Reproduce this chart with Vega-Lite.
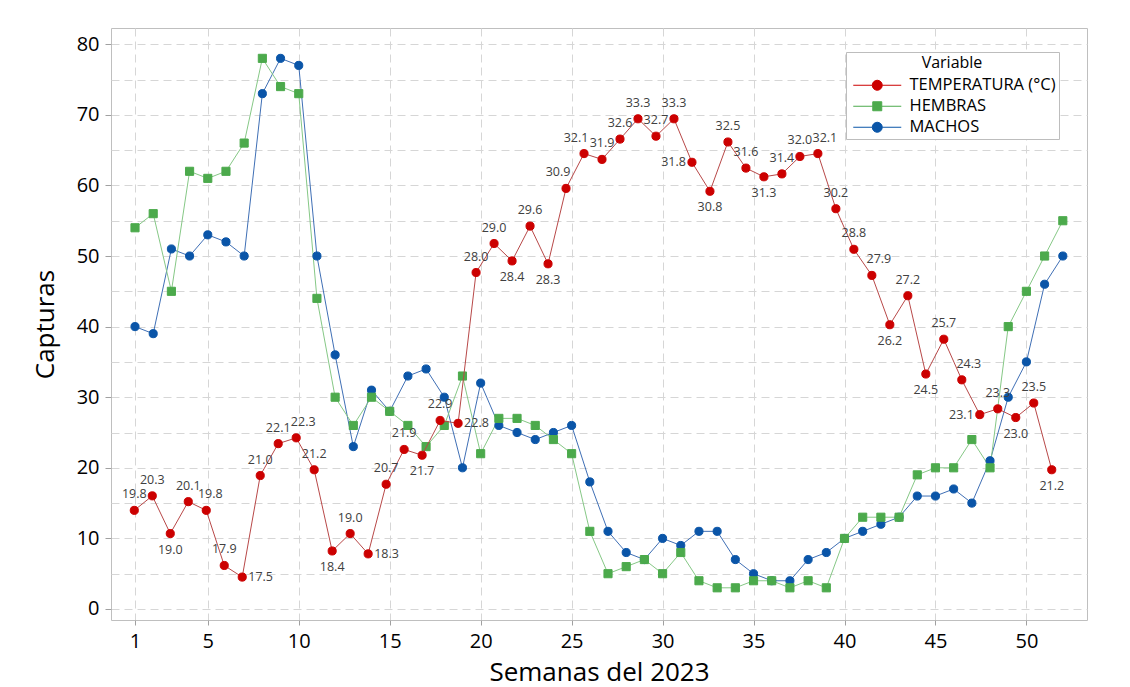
{
  "$schema": "https://vega.github.io/schema/vega-lite/v6.json",
  "width": 976,
  "height": 592,
  "autosize": {"type": "none"},
  "padding": {"left": 111, "top": 28, "right": 43, "bottom": 67},
  "background": "white",
  "config": {
    "font": "Open Sans",
    "view": {"stroke": "#bfbfbf", "strokeWidth": 1}
  },
  "data": {
    "values": [
      {"Semana": 1, "HEMBRAS": 54, "MACHOS": 40, "Temperatura": 19.8},
      {"Semana": 2, "HEMBRAS": 56, "MACHOS": 39, "Temperatura": 20.3},
      {"Semana": 3, "HEMBRAS": 45, "MACHOS": 51, "Temperatura": 19.0},
      {"Semana": 4, "HEMBRAS": 62, "MACHOS": 50, "Temperatura": 20.1},
      {"Semana": 5, "HEMBRAS": 61, "MACHOS": 53, "Temperatura": 19.8},
      {"Semana": 6, "HEMBRAS": 62, "MACHOS": 52, "Temperatura": 17.9},
      {"Semana": 7, "HEMBRAS": 66, "MACHOS": 50, "Temperatura": 17.5},
      {"Semana": 8, "HEMBRAS": 78, "MACHOS": 73, "Temperatura": 21.0},
      {"Semana": 9, "HEMBRAS": 74, "MACHOS": 78, "Temperatura": 22.1},
      {"Semana": 10, "HEMBRAS": 73, "MACHOS": 77, "Temperatura": 22.3},
      {"Semana": 11, "HEMBRAS": 44, "MACHOS": 50, "Temperatura": 21.2},
      {"Semana": 12, "HEMBRAS": 30, "MACHOS": 36, "Temperatura": 18.4},
      {"Semana": 13, "HEMBRAS": 26, "MACHOS": 23, "Temperatura": 19.0},
      {"Semana": 14, "HEMBRAS": 30, "MACHOS": 31, "Temperatura": 18.3},
      {"Semana": 15, "HEMBRAS": 28, "MACHOS": 28, "Temperatura": 20.7},
      {"Semana": 16, "HEMBRAS": 26, "MACHOS": 33, "Temperatura": 21.9},
      {"Semana": 17, "HEMBRAS": 23, "MACHOS": 34, "Temperatura": 21.7},
      {"Semana": 18, "HEMBRAS": 26, "MACHOS": 30, "Temperatura": 22.9},
      {"Semana": 19, "HEMBRAS": 33, "MACHOS": 20, "Temperatura": 22.8},
      {"Semana": 20, "HEMBRAS": 22, "MACHOS": 32, "Temperatura": 28.0},
      {"Semana": 21, "HEMBRAS": 27, "MACHOS": 26, "Temperatura": 29.0},
      {"Semana": 22, "HEMBRAS": 27, "MACHOS": 25, "Temperatura": 28.4},
      {"Semana": 23, "HEMBRAS": 26, "MACHOS": 24, "Temperatura": 29.6},
      {"Semana": 24, "HEMBRAS": 24, "MACHOS": 25, "Temperatura": 28.3},
      {"Semana": 25, "HEMBRAS": 22, "MACHOS": 26, "Temperatura": 30.9},
      {"Semana": 26, "HEMBRAS": 11, "MACHOS": 18, "Temperatura": 32.1},
      {"Semana": 27, "HEMBRAS": 5, "MACHOS": 11, "Temperatura": 31.9},
      {"Semana": 28, "HEMBRAS": 6, "MACHOS": 8, "Temperatura": 32.6},
      {"Semana": 29, "HEMBRAS": 7, "MACHOS": 7, "Temperatura": 33.3},
      {"Semana": 30, "HEMBRAS": 5, "MACHOS": 10, "Temperatura": 32.7},
      {"Semana": 31, "HEMBRAS": 8, "MACHOS": 9, "Temperatura": 33.3},
      {"Semana": 32, "HEMBRAS": 4, "MACHOS": 11, "Temperatura": 31.8},
      {"Semana": 33, "HEMBRAS": 3, "MACHOS": 11, "Temperatura": 30.8},
      {"Semana": 34, "HEMBRAS": 3, "MACHOS": 7, "Temperatura": 32.5},
      {"Semana": 35, "HEMBRAS": 4, "MACHOS": 5, "Temperatura": 31.6},
      {"Semana": 36, "HEMBRAS": 4, "MACHOS": 4, "Temperatura": 31.3},
      {"Semana": 37, "HEMBRAS": 3, "MACHOS": 4, "Temperatura": 31.4},
      {"Semana": 38, "HEMBRAS": 4, "MACHOS": 7, "Temperatura": 32.0},
      {"Semana": 39, "HEMBRAS": 3, "MACHOS": 8, "Temperatura": 32.1},
      {"Semana": 40, "HEMBRAS": 10, "MACHOS": 10, "Temperatura": 30.2},
      {"Semana": 41, "HEMBRAS": 13, "MACHOS": 11, "Temperatura": 28.8},
      {"Semana": 42, "HEMBRAS": 13, "MACHOS": 12, "Temperatura": 27.9},
      {"Semana": 43, "HEMBRAS": 13, "MACHOS": 13, "Temperatura": 26.2},
      {"Semana": 44, "HEMBRAS": 19, "MACHOS": 16, "Temperatura": 27.2},
      {"Semana": 45, "HEMBRAS": 20, "MACHOS": 16, "Temperatura": 24.5},
      {"Semana": 46, "HEMBRAS": 20, "MACHOS": 17, "Temperatura": 25.7},
      {"Semana": 47, "HEMBRAS": 24, "MACHOS": 15, "Temperatura": 24.3},
      {"Semana": 48, "HEMBRAS": 20, "MACHOS": 21, "Temperatura": 23.1},
      {"Semana": 49, "HEMBRAS": 40, "MACHOS": 30, "Temperatura": 23.3},
      {"Semana": 50, "HEMBRAS": 45, "MACHOS": 35, "Temperatura": 23.0},
      {"Semana": 51, "HEMBRAS": 50, "MACHOS": 46, "Temperatura": 23.5},
      {"Semana": 52, "HEMBRAS": 55, "MACHOS": 50, "Temperatura": 21.2}
    ]
  },
  "resolve": {"scale": {"x": "independent", "y": "independent"}},
  "layer": [
    {
      "transform": [{"fold": ["MACHOS", "HEMBRAS"], "as": ["Variable", "Capturas"]}],
      "encoding": {
        "x": {
          "field": "Semana", "type": "quantitative",
          "scale": {"domain": [-0.32, 53.33], "nice": false, "zero": false},
          "axis": {
            "values": [1, 5, 10, 15, 20, 25, 30, 35, 40, 45, 50],
            "title": "Semanas del 2023",
            "grid": true, "gridColor": "#d6d6d6", "gridDash": [8, 5], "gridWidth": 1,
            "domain": false, "ticks": true, "tickSize": 5, "tickColor": "#a0a0a0",
            "labelFontSize": 20, "labelColor": "#000000", "labelPadding": 6, "labelFontWeight": 500,
            "titleFontSize": 26, "titleColor": "#000000", "titleFontWeight": 500, "titlePadding": 8
          }
        },
        "y": {
          "field": "Capturas", "type": "quantitative",
          "scale": {"domain": [-1.56, 82.3], "nice": false, "zero": false},
          "axis": {
            "values": [0, 5, 10, 15, 20, 25, 30, 35, 40, 45, 50, 55, 60, 65, 70, 75, 80],
            "labelExpr": "datum.value % 10 === 0 ? datum.label : ''",
            "tickOpacity": {"condition": {"test": "datum.value % 10 === 0", "value": 1}, "value": 0},
            "title": "Capturas",
            "grid": true, "gridColor": "#d6d6d6", "gridDash": [8, 5], "gridWidth": 1,
            "domain": false, "ticks": true, "tickSize": 6, "tickColor": "#a0a0a0",
            "labelFontSize": 20, "labelColor": "#000000", "labelPadding": 6, "labelFontWeight": 500,
            "titleFontSize": 26, "titleColor": "#000000", "titleFontWeight": 500, "titlePadding": 18
          }
        }
      },
      "layer": [
        {
          "mark": {"type": "line", "strokeWidth": 1},
          "encoding": {
            "color": {
              "field": "Variable", "type": "nominal",
              "scale": {"domain": ["HEMBRAS", "MACHOS"], "range": ["#86c886", "#3f6fb5"]},
              "legend": null
            },
            "detail": {"field": "Variable"}
          }
        },
        {
          "mark": {"type": "point", "filled": true, "opacity": 1, "size": 66, "strokeWidth": 1},
          "encoding": {
            "shape": {
              "field": "Variable", "type": "nominal",
              "scale": {"domain": ["HEMBRAS", "MACHOS"], "range": ["square", "circle"]},
              "legend": null
            },
            "stroke": {
              "field": "Variable", "type": "nominal",
              "scale": {"domain": ["TEMPERATURA (°C)", "HEMBRAS", "MACHOS"], "range": ["#cc0000", "#4caa4c", "#0a55a8"]},
              "legend": {
                "orient": "none", "legendX": 735, "legendY": 24,
                "title": "Variable", "titleFontSize": 16, "titleFontWeight": "normal", "titleColor": "#000000",
                "titlePadding": 6, "titleAnchor": "middle",
                "labelFontSize": 16.5, "labelColor": "#000000",
                "padding": 3, "rowPadding": 4,
                "strokeColor": "#bdbdbd", "fillColor": "#ffffff",
                "symbolOffset": 20, "labelOffset": 24,
                "symbolSize": 100, "symbolStrokeWidth": 1,
                "symbolType": {"expr": "datum.value === 'HEMBRAS' ? 'M-4.8,0H-0.9M0.9,0H4.8M-0.9,-0.9H0.9V0.9H-0.9Z' : 'M-4.8,0H-1M1,0H4.8M-1,0A1,1 0 1,0 1,0A1,1 0 1,0 -1,0Z'"}
              }
            },
            "fill": {
              "field": "Variable", "type": "nominal",
              "scale": {"domain": ["TEMPERATURA (°C)", "HEMBRAS", "MACHOS"], "range": ["#cc0000", "#4caa4c", "#0a55a8"]},
              "legend": {
                "orient": "none", "legendX": 735, "legendY": 24,
                "title": "Variable", "titleFontSize": 16, "titleFontWeight": "normal", "titleColor": "#000000",
                "titlePadding": 6, "titleAnchor": "middle",
                "labelFontSize": 16.5, "labelColor": "#000000",
                "padding": 3, "rowPadding": 4,
                "strokeColor": "#bdbdbd", "fillColor": "#ffffff",
                "symbolOffset": 20, "labelOffset": 24,
                "symbolSize": 100, "symbolStrokeWidth": 1,
                "symbolType": {"expr": "datum.value === 'HEMBRAS' ? 'M-4.8,0H-0.9M0.9,0H4.8M-0.9,-0.9H0.9V0.9H-0.9Z' : 'M-4.8,0H-1M1,0H4.8M-1,0A1,1 0 1,0 1,0A1,1 0 1,0 -1,0Z'"}
              }
            }
          }
        }
      ]
    },
    {
      "encoding": {
        "x": {
          "field": "Semana", "type": "quantitative",
          "scale": {"domain": [-0.295, 53.96], "nice": false, "zero": false},
          "axis": null
        },
        "y": {
          "field": "Temperatura", "type": "quantitative",
          "scale": {"domain": [16.02, 36.43], "nice": false, "zero": false},
          "axis": null
        }
      },
      "layer": [
        {"mark": {"type": "line", "color": "#b84848", "strokeWidth": 1}},
        {
          "mark": {"type": "point", "filled": true, "opacity": 1, "size": 66, "strokeWidth": 1},
          "encoding": {
            "fill": {
              "datum": "TEMPERATURA (°C)", "type": "nominal",
              "scale": {"domain": ["TEMPERATURA (°C)", "HEMBRAS", "MACHOS"], "range": ["#cc0000", "#4caa4c", "#0a55a8"]}
            },
            "stroke": {
              "datum": "TEMPERATURA (°C)", "type": "nominal",
              "scale": {"domain": ["TEMPERATURA (°C)", "HEMBRAS", "MACHOS"], "range": ["#cc0000", "#4caa4c", "#0a55a8"]}
            }
          }
        },
        {
          "transform": [{"filter": "indexof([3,12,17,22,24,33,36,43,45,50,52,7,14,19,32,48,25,26,39,42,47,10,5], datum.Semana) < 0"}],
          "mark": {"type": "text", "fontSize": 12.5, "color": "#404040", "dy": -16, "align": "center", "baseline": "middle"},
          "encoding": {"text": {"field": "Temperatura", "type": "quantitative", "format": ".1f"}}
        },
        {
          "transform": [{"filter": "indexof([25,26], datum.Semana) >= 0"}],
          "mark": {"type": "text", "fontSize": 12.5, "color": "#404040", "dy": -16, "dx": -8, "align": "center", "baseline": "middle"},
          "encoding": {"text": {"field": "Temperatura", "type": "quantitative", "format": ".1f"}}
        },
        {
          "transform": [{"filter": "indexof([5], datum.Semana) >= 0"}],
          "mark": {"type": "text", "fontSize": 12.5, "color": "#404040", "dy": -16, "dx": 4, "align": "center", "baseline": "middle"},
          "encoding": {"text": {"field": "Temperatura", "type": "quantitative", "format": ".1f"}}
        },
        {
          "transform": [{"filter": "indexof([10,39,42,47], datum.Semana) >= 0"}],
          "mark": {"type": "text", "fontSize": 12.5, "color": "#404040", "dy": -16, "dx": 7, "align": "center", "baseline": "middle"},
          "encoding": {"text": {"field": "Temperatura", "type": "quantitative", "format": ".1f"}}
        },
        {
          "transform": [{"filter": "indexof([3,12,17,22,24,33,36,43,45,50,52], datum.Semana) >= 0"}],
          "mark": {"type": "text", "fontSize": 12.5, "color": "#404040", "dy": 16, "align": "center", "baseline": "middle"},
          "encoding": {"text": {"field": "Temperatura", "type": "quantitative", "format": ".1f"}}
        },
        {
          "transform": [{"filter": "indexof([7,14,19], datum.Semana) >= 0"}],
          "mark": {"type": "text", "fontSize": 12.5, "color": "#404040", "dx": 6, "align": "left", "baseline": "middle"},
          "encoding": {"text": {"field": "Temperatura", "type": "quantitative", "format": ".1f"}}
        },
        {
          "transform": [{"filter": "indexof([32,48], datum.Semana) >= 0"}],
          "mark": {"type": "text", "fontSize": 12.5, "color": "#404040", "dx": -6, "align": "right", "baseline": "middle"},
          "encoding": {"text": {"field": "Temperatura", "type": "quantitative", "format": ".1f"}}
        }
      ]
    }
  ]
}
